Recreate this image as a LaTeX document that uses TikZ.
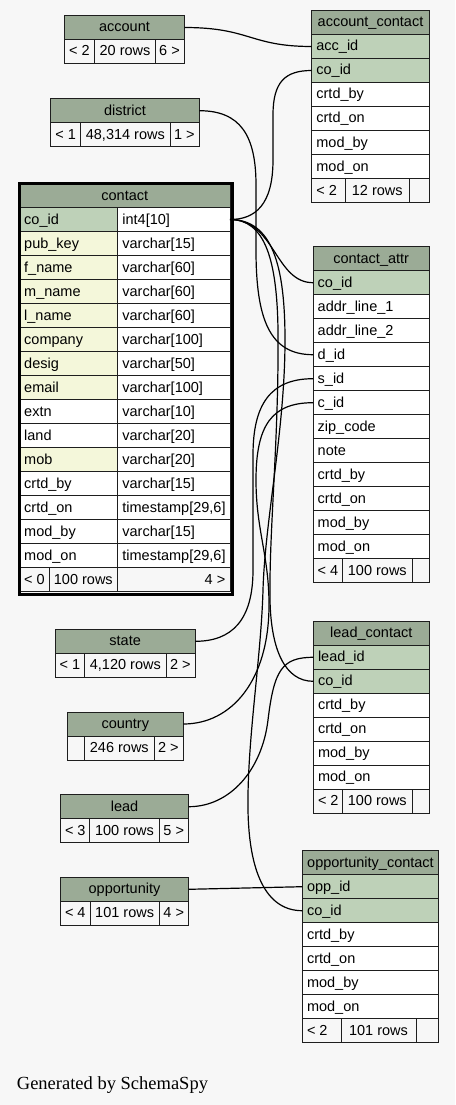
\documentclass[tikz,border=0pt]{standalone}
\usepackage{fontspec}
\setmainfont{Liberation Sans}
\newfontfamily\gensf{Liberation Serif}
\definecolor{bgc}{HTML}{F7F7F7}
\definecolor{hdrc}{HTML}{9BAB96}
\definecolor{pkc}{HTML}{BED1B8}
\definecolor{idxc}{HTML}{F4F7DA}
\definecolor{linec}{HTML}{1E1E1E}
\tikzset{
  cellbox/.style={draw=linec, line width=1pt, inner sep=0pt, outer sep=0pt, minimum height=24pt, anchor=north west},
  txt/.style={inner sep=0pt, font=\fontsize{14.5}{17}\selectfont, text=black},
  edge/.style={draw=black, line width=1.2pt},
}
% header: name x y w text
\newcommand\hd[5]{\node[cellbox,fill=hdrc,minimum width=#4pt] (#1) at (#2,#3) {};
  \node[txt,anchor=base] (#1-t) at (#2+#4/2,#3+16.5) {#5};}
% left-aligned cell: name x y w fill text
\newcommand\rl[6]{\node[cellbox,fill=#5,minimum width=#4pt] (#1) at (#2,#3) {};
  \node[txt,anchor=base west] (#1-t) at (#2+4.5,#3+16.5) {#6};}
% footer: prefix x y w1 w2 w3 t1 t2 t3
\newcommand\ft[9]{%
  \node[cellbox,fill=bgc,minimum width=#4pt] (#1-a) at (#2,#3) {};
  \node[cellbox,fill=bgc,minimum width=#5pt] (#1-b) at (#2+#4,#3) {};
  \node[cellbox,fill=bgc,minimum width=#6pt] (#1-c) at (#2+#4+#5,#3) {};
  \node[txt,anchor=base west] (#1-at) at (#2+4.5,#3+16.5) {#7};
  \node[txt,anchor=base] (#1-bt) at (#2+#4+#5/2,#3+16.5) {#8};
  \node[txt,anchor=base east] (#1-ct) at (#2+#4+#5+#6-4.5,#3+16.5) {#9};}
% contact row: name y fill colname type
\newcommand\crow[5]{\rl{#1}{19.5}{#2}{98.2}{#3}{#4}\rl{#1-ty}{117.7}{#2}{112.3}{white}{#5}}
\begin{document}
\begin{tikzpicture}[x=1pt,y=-1pt]
\fill[bgc] (0,0) rectangle (455,1105);
\useasboundingbox (0,0) rectangle (455,1105);

% account
\hd{acc-h}{64.5}{15.5}{120}{account}
\ft{acc-f}{64.5}{39.5}{30}{61}{29}{< 2}{20 rows}{6 >}
% district
\hd{dis-h}{50.7}{98.7}{148.6}{district}
\ft{dis-f}{50.7}{122.7}{30}{89.3}{29.3}{< 1}{48,314 rows}{1 >}

% contact
\hd{ct-h}{19.5}{183.5}{210.5}{contact}
\crow{ct-co}{207.5}{pkc}{co\_id}{int4[10]}
\crow{ct-pk}{231.5}{idxc}{pub\_key}{varchar[15]}
\crow{ct-fn}{255.5}{idxc}{f\_name}{varchar[60]}
\crow{ct-mn}{279.5}{idxc}{m\_name}{varchar[60]}
\crow{ct-ln}{303.5}{idxc}{l\_name}{varchar[60]}
\crow{ct-cp}{327.5}{idxc}{company}{varchar[100]}
\crow{ct-ds}{351.5}{idxc}{desig}{varchar[50]}
\crow{ct-em}{375.5}{idxc}{email}{varchar[100]}
\crow{ct-ex}{399.5}{white}{extn}{varchar[10]}
\crow{ct-la}{423.5}{white}{land}{varchar[20]}
\crow{ct-mo}{447.5}{idxc}{mob}{varchar[20]}
\crow{ct-cb}{471.5}{white}{crtd\_by}{varchar[15]}
\crow{ct-co2}{495.5}{white}{crtd\_on}{timestamp[29,6]}
\crow{ct-mb}{519.5}{white}{mod\_by}{varchar[15]}
\crow{ct-mo2}{543.5}{white}{mod\_on}{timestamp[29,6]}
\ft{ct-f}{19.5}{567.5}{29.5}{68.7}{112.3}{< 0}{100 rows}{4 >}
\node[draw=black,line width=3pt,minimum width=213.3pt,minimum height=411pt,anchor=north west,inner sep=0pt] (contact) at (18,182.3) {};

% account_contact
\hd{ac-h}{311.7}{10.5}{117.6}{account\_contact}
\rl{ac-acc}{311.7}{34.5}{117.6}{pkc}{acc\_id}
\rl{ac-co}{311.7}{58.5}{117.6}{pkc}{co\_id}
\rl{ac-cb}{311.7}{82.5}{117.6}{white}{crtd\_by}
\rl{ac-cn}{311.7}{106.5}{117.6}{white}{crtd\_on}
\rl{ac-mb}{311.7}{130.5}{117.6}{white}{mod\_by}
\rl{ac-mn}{311.7}{154.5}{117.6}{white}{mod\_on}
\ft{ac-f}{311.7}{178.5}{33.6}{64}{20}{< 2}{12 rows}{}

% contact_attr
\hd{ca-h}{313}{246.7}{116.3}{contact\_attr}
\rl{ca-co}{313}{270.7}{116.3}{pkc}{co\_id}
\rl{ca-a1}{313}{294.7}{116.3}{white}{addr\_line\_1}
\rl{ca-a2}{313}{318.7}{116.3}{white}{addr\_line\_2}
\rl{ca-d}{313}{342.7}{116.3}{white}{d\_id}
\rl{ca-s}{313}{366.7}{116.3}{white}{s\_id}
\rl{ca-c}{313}{390.7}{116.3}{white}{c\_id}
\rl{ca-z}{313}{414.7}{116.3}{white}{zip\_code}
\rl{ca-n}{313}{438.7}{116.3}{white}{note}
\rl{ca-cb}{313}{462.7}{116.3}{white}{crtd\_by}
\rl{ca-cn}{313}{486.7}{116.3}{white}{crtd\_on}
\rl{ca-mb}{313}{510.7}{116.3}{white}{mod\_by}
\rl{ca-mn}{313}{534.7}{116.3}{white}{mod\_on}
\ft{ca-f}{313}{558.7}{29.7}{69.3}{17.3}{< 4}{100 rows}{}

% state, country, lead, opportunity
\hd{st-h}{55}{629.3}{140.3}{state}
\ft{st-f}{55}{653.3}{29.7}{81.3}{29.3}{< 1}{4,120 rows}{2 >}
\hd{cn-h}{67.3}{712}{116}{country}
\ft{cn-f}{67.3}{736}{17.4}{69.3}{29.3}{}{246 rows}{2 >}
\hd{ld-h}{60.3}{794.7}{128.4}{lead}
\ft{ld-f}{60.3}{818.7}{29.4}{69.6}{29.4}{< 3}{100 rows}{5 >}
\hd{op-h}{60.3}{877.3}{128.4}{opportunity}
\ft{op-f}{60.3}{901.3}{29.7}{69.3}{29.4}{< 4}{101 rows}{4 >}

% lead_contact
\hd{lc-h}{313.3}{621.3}{116}{lead\_contact}
\rl{lc-lead}{313.3}{645.3}{116}{pkc}{lead\_id}
\rl{lc-co}{313.3}{669.3}{116}{pkc}{co\_id}
\rl{lc-cb}{313.3}{693.3}{116}{white}{crtd\_by}
\rl{lc-cn}{313.3}{717.3}{116}{white}{crtd\_on}
\rl{lc-mb}{313.3}{741.3}{116}{white}{mod\_by}
\rl{lc-mn}{313.3}{765.3}{116}{white}{mod\_on}
\ft{lc-f}{313.3}{789.3}{29.4}{69.3}{17.3}{< 2}{100 rows}{}

% opportunity_contact
\hd{oc-h}{302.3}{850.7}{136.4}{opportunity\_contact}
\rl{oc-opp}{302.3}{874.7}{136.4}{pkc}{opp\_id}
\rl{oc-co}{302.3}{898.7}{136.4}{pkc}{co\_id}
\rl{oc-cb}{302.3}{922.7}{136.4}{white}{crtd\_by}
\rl{oc-cn}{302.3}{946.7}{136.4}{white}{crtd\_on}
\rl{oc-mb}{302.3}{970.7}{136.4}{white}{mod\_by}
\rl{oc-mn}{302.3}{994.7}{136.4}{white}{mod\_on}
\ft{oc-f}{302.3}{1018.7}{38.7}{75}{22.7}{< 2}{101 rows}{}

% connectors
\draw[edge] (acc-h.east) .. controls (250,27.5) and (250,46.5) .. (ac-acc.west);
\draw[edge] (ct-co-ty.east) .. controls (255,219.5) and (273,205) .. (273,160) -- (273,115) .. controls (273,82) and (285,70.5) .. (ac-co.west);
\draw[edge] (dis-h.east) .. controls (240,110.7) and (256,135) .. (256,185) -- (256,250) .. controls (256,320) and (270,354.7) .. (ca-d.west);
\draw[edge] (ct-co-ty.east) .. controls (275,219.5) and (275,282.7) .. (ca-co.west);
\draw[edge] (ct-co-ty.east) .. controls (265,219.5) and (277,260) .. (278,330) .. controls (279,440) and (269,530) .. (270,600) .. controls (271,650) and (285,681.3) .. (lc-co.west);
\draw[edge] (ct-co-ty.east) .. controls (272,219.5) and (285,265) .. (285,340) .. controls (285,430) and (265,520) .. (263,590) .. controls (261,660) and (247,740) .. (248,810) .. controls (249,870) and (265,910.7) .. (oc-co.west);
\draw[edge] (st-h.east) .. controls (232,641.3) and (253,620) .. (253,570) -- (253,455) .. controls (253,405) and (270,378.7) .. (ca-s.west);
\draw[edge] (cn-h.east) .. controls (232,724) and (269,680) .. (269,605) .. controls (269,555) and (256,530) .. (256,480) .. controls (256,425) and (272,402.7) .. (ca-c.west);
\draw[edge] (ld-h.east) .. controls (230,806.7) and (262,770) .. (268,720) .. controls (274,670) and (282,657.3) .. (lc-lead.west);
\draw[edge] (op-h.east) -- (oc-opp.west);

\node[anchor=base west,inner sep=0pt,font=\gensf\fontsize{18.5}{20}\selectfont] (gen) at (16.7,1089) {Generated by SchemaSpy};
\end{tikzpicture}
\end{document}
